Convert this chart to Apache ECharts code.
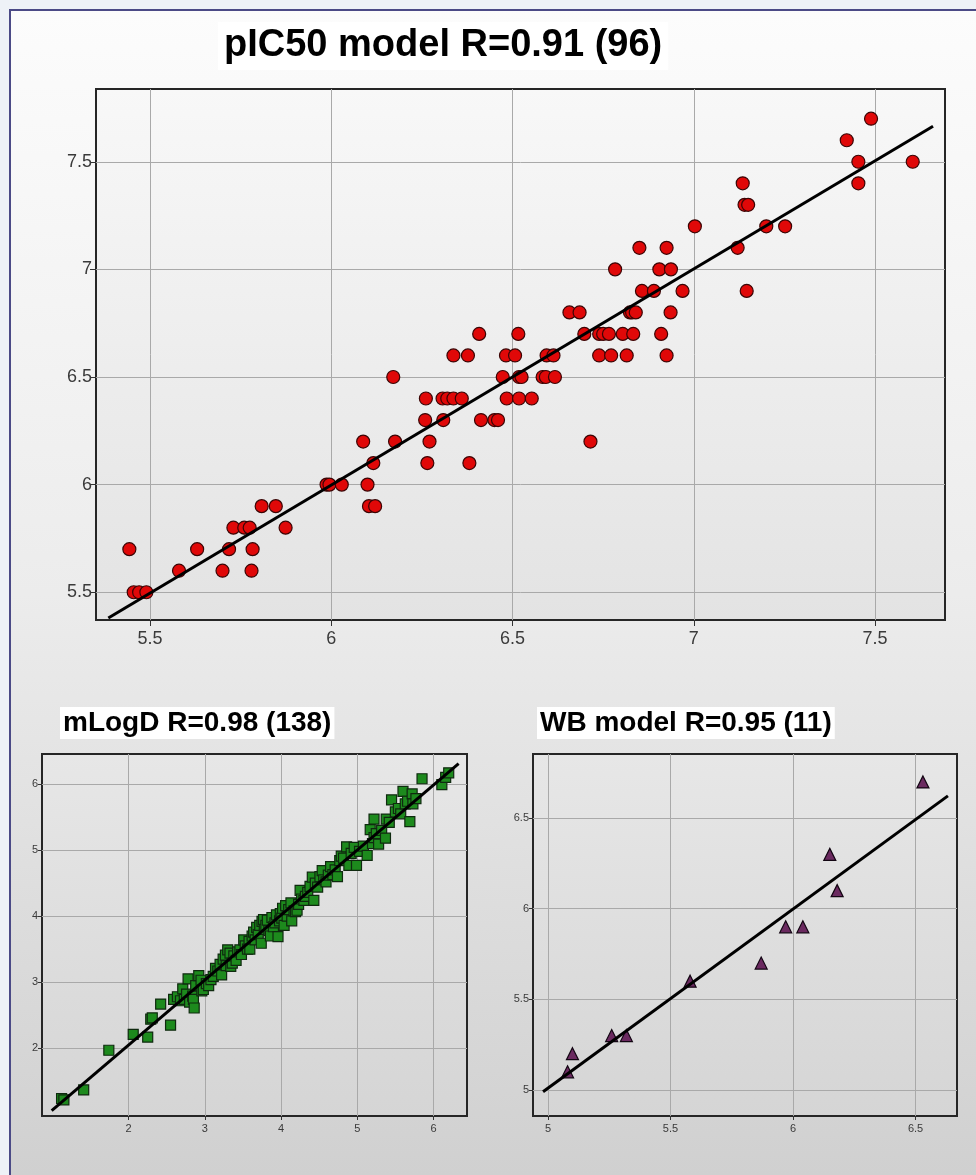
<!DOCTYPE html>
<html>
<head>
<meta charset="utf-8">
<title>Model correlation</title>
<script src="https://cdn.jsdelivr.net/npm/echarts@6/dist/echarts.min.js"></script>
<style>
    html, body {
        margin: 0;
        padding: 0;
        width: 976px;
        height: 1175px;
        overflow: hidden;
        background: #eef2f7;
    }
    .frame {
        position: absolute;
        left: 9px;
        top: 9px;
        width: 967px;
        height: 1166px;
        box-sizing: border-box;
        border-left: 2px solid #4b4a86;
        border-top: 2px solid #4b4a86;
        background: linear-gradient(to bottom, #fcfcfc 0%, #ececec 50%, #d0d0d0 100%);
    }
    #chart {
        position: absolute;
        left: 0;
        top: 0;
        width: 976px;
        height: 1175px;
    }
</style>
</head>
<body>
<div class="frame"></div>
<div id="chart"></div>
<script>
    // tick positions
    const pic50Ticks = [5.5, 6, 6.5, 7, 7.5];
    const logdTicks = [2, 3, 4, 5, 6];
    const wbTicks = [5, 5.5, 6, 6.5];

    // pIC50: [predicted, observed]
    const pic50Points = [
        [5.455, 5.5], [5.47, 5.5], [5.49, 5.5],
        [5.58, 5.6], [5.70, 5.6], [5.78, 5.6],
        [5.443, 5.7], [5.63, 5.7], [5.718, 5.7], [5.783, 5.7],
        [5.73, 5.8], [5.76, 5.8], [5.775, 5.8], [5.874, 5.8],
        [5.808, 5.9], [5.847, 5.9], [6.104, 5.9], [6.121, 5.9],
        [5.987, 6.0], [5.995, 6.0], [6.029, 6.0], [6.10, 6.0],
        [6.116, 6.1], [6.265, 6.1], [6.381, 6.1],
        [6.088, 6.2], [6.176, 6.2], [6.271, 6.2], [6.715, 6.2],
        [6.259, 6.3], [6.309, 6.3], [6.413, 6.3], [6.45, 6.3], [6.46, 6.3],
        [6.261, 6.4], [6.307, 6.4], [6.32, 6.4], [6.337, 6.4], [6.36, 6.4], [6.484, 6.4], [6.518, 6.4], [6.553, 6.4],
        [6.171, 6.5], [6.473, 6.5], [6.518, 6.5], [6.525, 6.5], [6.583, 6.5], [6.592, 6.5], [6.617, 6.5],
        [6.337, 6.6], [6.377, 6.6], [6.482, 6.6], [6.507, 6.6], [6.594, 6.6], [6.613, 6.6], [6.739, 6.6], [6.772, 6.6], [6.815, 6.6], [6.925, 6.6],
        [6.408, 6.7], [6.516, 6.7], [6.698, 6.7], [6.739, 6.7], [6.75, 6.7], [6.766, 6.7], [6.804, 6.7], [6.833, 6.7], [6.91, 6.7],
        [6.657, 6.8], [6.685, 6.8], [6.824, 6.8], [6.83, 6.8], [6.84, 6.8], [6.936, 6.8],
        [6.857, 6.9], [6.89, 6.9], [6.969, 6.9], [7.146, 6.9],
        [6.783, 7.0], [6.905, 7.0], [6.937, 7.0],
        [6.85, 7.1], [6.925, 7.1], [7.121, 7.1],
        [7.003, 7.2], [7.2, 7.2], [7.252, 7.2],
        [7.14, 7.3], [7.15, 7.3],
        [7.135, 7.4], [7.454, 7.4],
        [7.454, 7.5], [7.604, 7.5],
        [7.422, 7.6],
        [7.489, 7.7]
    ];
    const pic50Fit = [[5.385, 5.38], [7.66, 7.665]];

    // mLogD
    const logdPoints = [
        [1.12, 1.24], [1.15, 1.22], [1.41, 1.37], [1.74, 1.97], [2.06, 2.21], [2.25, 2.17], [2.29, 2.44], [2.31, 2.46],
        [2.42, 2.67], [2.55, 2.35], [2.59, 2.74], [2.64, 2.78], [2.68, 2.72], [2.71, 2.90], [2.73, 2.74], [2.76, 2.82],
        [2.78, 3.05], [2.80, 2.70], [2.84, 2.79], [2.85, 2.74], [2.86, 2.61], [2.88, 2.95], [2.92, 3.10], [2.95, 3.03],
        [2.96, 2.87], [2.98, 2.89], [3.02, 2.98], [3.05, 2.95], [3.08, 3.04], [3.11, 3.09], [3.14, 3.21], [3.17, 3.17],
        [3.20, 3.27], [3.22, 3.11], [3.24, 3.35], [3.27, 3.41], [3.28, 3.25], [3.30, 3.49], [3.33, 3.44], [3.34, 3.24],
        [3.36, 3.29], [3.38, 3.40], [3.41, 3.33], [3.43, 3.46], [3.46, 3.49], [3.48, 3.42], [3.51, 3.64], [3.53, 3.55],
        [3.56, 3.50], [3.58, 3.62], [3.59, 3.50], [3.62, 3.70], [3.64, 3.76], [3.66, 3.64], [3.68, 3.83], [3.70, 3.72],
        [3.72, 3.86], [3.74, 3.59], [3.75, 3.92], [3.77, 3.95], [3.78, 3.80], [3.80, 3.86], [3.82, 3.94], [3.84, 3.78],
        [3.86, 3.70], [3.88, 3.98], [3.90, 3.84], [3.92, 3.90], [3.94, 4.02], [3.96, 3.69], [3.98, 3.93], [3.99, 4.04],
        [4.01, 3.97], [4.02, 4.12], [4.04, 3.86], [4.06, 4.16], [4.08, 4.00], [4.10, 4.10], [4.13, 4.20], [4.14, 3.93],
        [4.17, 4.08], [4.19, 4.07], [4.21, 4.09], [4.23, 4.18], [4.25, 4.39], [4.27, 4.26], [4.30, 4.24], [4.32, 4.30],
        [4.35, 4.36], [4.38, 4.45], [4.41, 4.59], [4.43, 4.24], [4.45, 4.50], [4.48, 4.44], [4.51, 4.60], [4.54, 4.69],
        [4.56, 4.55], [4.59, 4.52], [4.62, 4.62], [4.65, 4.75], [4.68, 4.63], [4.71, 4.70], [4.74, 4.60], [4.77, 4.84],
        [4.79, 4.91], [4.82, 4.88], [4.86, 5.05], [4.89, 4.77], [4.92, 4.95], [4.96, 5.04], [4.99, 4.77], [5.03, 4.98],
        [5.08, 5.06], [5.13, 4.92], [5.17, 5.31], [5.20, 5.10], [5.22, 5.47], [5.22, 5.19], [5.25, 5.25], [5.28, 5.09],
        [5.32, 5.30], [5.37, 5.18], [5.38, 5.47], [5.42, 5.42], [5.45, 5.76], [5.50, 5.58], [5.54, 5.63], [5.57, 5.55],
        [5.60, 5.89], [5.63, 5.70], [5.66, 5.74], [5.69, 5.43], [5.72, 5.85], [5.73, 5.70], [5.77, 5.78], [5.85, 6.08],
        [6.11, 5.99], [6.16, 6.10], [6.20, 6.17]
    ];
    const logdFit = [[0.99, 1.056], [6.33, 6.31]];

    // WB model
    const wbPoints = [
        [5.08, 5.1], [5.1, 5.2], [5.26, 5.3], [5.32, 5.3], [5.58, 5.6], [5.87, 5.7],
        [5.97, 5.9], [6.04, 5.9], [6.15, 6.3], [6.18, 6.1], [6.53, 6.7]
    ];
    const wbFit = [[4.98, 4.99], [6.632, 6.623]];

    let myChart = echarts.init(document.getElementById('chart'), null, {renderer: 'canvas'});

    // plot area fill
    function plotFill(top, bottom) {
        return {
            type: 'linear', x: 0, y: 0, x2: 0, y2: 1,
            colorStops: [{offset: 0, color: top}, {offset: 1, color: bottom}]
        };
    }

    function makeAxis(idx, min, max, ticks, fontSize, tickLen, margin) {
        return {
            type: 'value',
            gridIndex: idx,
            min: min,
            max: max,
            axisLine: {show: false},
            axisTick: {
                show: true,
                length: tickLen,
                customValues: ticks,
                lineStyle: {color: '#333', width: 1}
            },
            axisLabel: {
                customValues: ticks,
                color: '#3a3a3a',
                fontSize: fontSize,
                fontFamily: 'Liberation Sans',
                margin: margin
            },
            splitLine: {
                show: true,
                lineStyle: {color: '#a9a9a9', width: 1}
            }
        };
    }

    const titleStyle = {
        color: '#000',
        fontWeight: 'bold',
        fontFamily: 'Liberation Sans'
    };

    let option = {
        animation: false,
        backgroundColor: 'transparent',
        title: [
            {
                text: 'pIC50 model R=0.91 (96)',
                left: 218,
                top: 22,
                padding: [5, 6],
                backgroundColor: '#fff',
                textStyle: Object.assign({fontSize: 38}, titleStyle)
            },
            {
                text: 'mLogD R=0.98 (138)',
                left: 60,
                top: 707,
                padding: [2, 3],
                backgroundColor: '#fff',
                textStyle: Object.assign({fontSize: 28}, titleStyle)
            },
            {
                text: 'WB model R=0.95 (11)',
                left: 537,
                top: 707,
                padding: [2, 3],
                backgroundColor: '#fff',
                textStyle: Object.assign({fontSize: 28}, titleStyle)
            }
        ],
        grid: [
            {left: 96, top: 89, width: 849, height: 531, show: true,
                backgroundColor: plotFill('#f8f8f8', '#e3e3e3'), borderColor: '#262626', borderWidth: 2},
            {left: 42, top: 754, width: 425, height: 362, show: true,
                backgroundColor: plotFill('#e7e7e7', '#d5d5d5'), borderColor: '#262626', borderWidth: 2},
            {left: 533, top: 754, width: 424, height: 362, show: true,
                backgroundColor: plotFill('#e7e7e7', '#d5d5d5'), borderColor: '#262626', borderWidth: 2}
        ],
        xAxis: [
            makeAxis(0, 5.351, 7.693, pic50Ticks, 18, 6, 10),
            makeAxis(1, 0.863, 6.44, logdTicks, 11, 4, 7),
            makeAxis(2, 4.939, 6.669, wbTicks, 11, 4, 7)
        ],
        yAxis: [
            makeAxis(0, 5.371, 7.838, pic50Ticks, 18, 6, 4),
            makeAxis(1, 0.975, 6.455, logdTicks, 11, 4, 4),
            makeAxis(2, 4.856, 6.854, wbTicks, 11, 4, 4)
        ],
        series: [
            {
                name: 'pIC50',
                type: 'scatter',
                xAxisIndex: 0,
                yAxisIndex: 0,
                symbol: 'circle',
                symbolSize: 13,
                itemStyle: {color: '#e00808', borderColor: '#3a0505', borderWidth: 1.2, opacity: 1},
                data: pic50Points
            },
            {
                name: 'pIC50 fit',
                type: 'line',
                xAxisIndex: 0,
                yAxisIndex: 0,
                symbol: 'none',
                z: 5,
                lineStyle: {color: '#000', width: 3},
                data: pic50Fit
            },
            {
                name: 'mLogD',
                type: 'scatter',
                xAxisIndex: 1,
                yAxisIndex: 1,
                symbol: 'rect',
                symbolSize: 10,
                itemStyle: {color: '#1d8a1d', borderColor: '#0f2a0f', borderWidth: 1.2, opacity: 1},
                data: logdPoints
            },
            {
                name: 'mLogD fit',
                type: 'line',
                xAxisIndex: 1,
                yAxisIndex: 1,
                symbol: 'none',
                z: 5,
                lineStyle: {color: '#000', width: 3},
                data: logdFit
            },
            {
                name: 'WB',
                type: 'scatter',
                xAxisIndex: 2,
                yAxisIndex: 2,
                symbol: 'triangle',
                symbolSize: 12,
                itemStyle: {color: '#6b2a60', borderColor: '#120512', borderWidth: 1.2, opacity: 1},
                data: wbPoints
            },
            {
                name: 'WB fit',
                type: 'line',
                xAxisIndex: 2,
                yAxisIndex: 2,
                symbol: 'none',
                z: 5,
                lineStyle: {color: '#000', width: 3},
                data: wbFit
            }
        ]
    };

    myChart.setOption(option);
</script>
</body>
</html>
